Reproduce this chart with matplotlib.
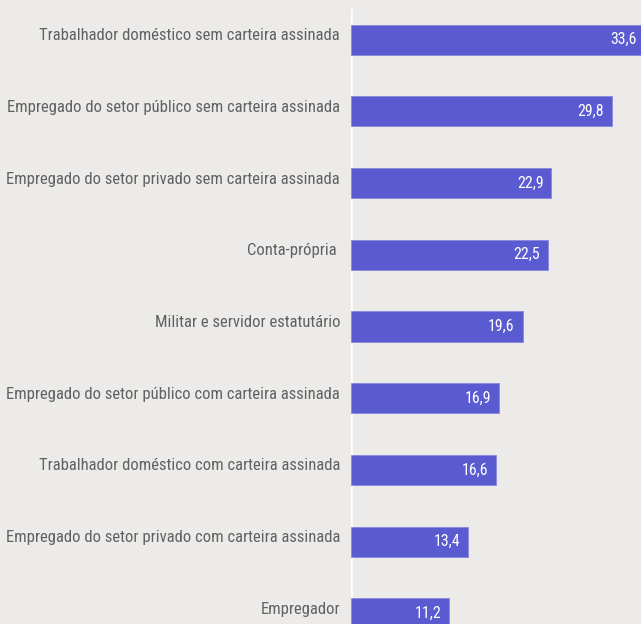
import matplotlib.pyplot as plt
import matplotlib.transforms as mtransforms
from matplotlib import font_manager

categorias = ['Trabalhador doméstico sem carteira assinada',
              'Empregado do setor público sem carteira assinada',
              'Empregado do setor privado sem carteira assinada',
              'Conta-própria ',
              'Militar e servidor estatutário',
              'Empregado do setor público com carteira assinada',
              'Trabalhador doméstico com carteira assinada',
              'Empregado do setor privado com carteira assinada',
              'Empregador']
valores = [33.6, 29.8, 22.9, 22.5, 19.6, 16.9, 16.6, 13.4, 11.2]
rotulos = ['33,6', '29,8', '22,9', '22,5', '19,6', '16,9', '16,6', '13,4', '11,2']

fundo = '#ecebe9'
cor_barra = '#5b5bd1'

# procura uma fonte condensada instalada
disponiveis = {f.name for f in font_manager.fontManager.ttflist}
candidatas = ['Roboto Condensed', 'Liberation Sans Narrow', 'Noto Sans Condensed',
              'Open Sans Condensed', 'DejaVu Sans Condensed', 'Roboto']
fonte = next((c for c in candidatas if c in disponiveis), 'DejaVu Sans')
estilo = 'condensed' if fonte in ('Roboto', 'DejaVu Sans') else 'normal'

fig = plt.figure(figsize=(6.41, 6.24), dpi=100, facecolor=fundo)
ax = fig.add_axes([351 / 641, 0, 290 / 641, 1])
ax.set_facecolor(fundo)

pos = list(range(len(valores)))
ax.barh(pos, valores, height=0.42, color=cor_barra, edgecolor='#8a87e0', linewidth=0.6)

ax.set_xlim(0, 290 / 8.75)
ax.set_ylim(8.149, -0.554)

for s in ax.spines.values():
    s.set_visible(False)
ax.axvline(0, ymin=0, ymax=1 - 10 / 624, color='white', linewidth=2, zorder=0)
ax.set_xticks([])
ax.set_yticks([])

# ajusta o tamanho para o rotulo mais longo caber em ~334 px
tam = 14
renderer = fig.canvas.get_renderer()
while tam > 7:
    t = fig.text(0, 0, categorias[1], fontsize=tam, family=fonte, stretch=estilo)
    larg = t.get_window_extent(renderer).width
    t.remove()
    if larg <= 334:
        break
    tam -= 0.1

desl_label = mtransforms.offset_copy(ax.transData, fig=fig, x=-11, y=4, units='dots')
desl_valor = mtransforms.offset_copy(ax.transData, fig=fig, x=-8, y=0, units='dots')
for i, (cat, v, r) in enumerate(zip(categorias, valores, rotulos)):
    ax.text(0, i, cat, transform=desl_label, ha='right', va='center',
            fontsize=tam, color='#616161', family=fonte, stretch=estilo, clip_on=False)
    ax.text(v, i, r, transform=desl_valor, ha='right', va='center',
            fontsize=tam - 0.6, color='white', family=fonte, stretch=estilo, clip_on=False)

fig.savefig('out.png', dpi=100, facecolor=fundo)
